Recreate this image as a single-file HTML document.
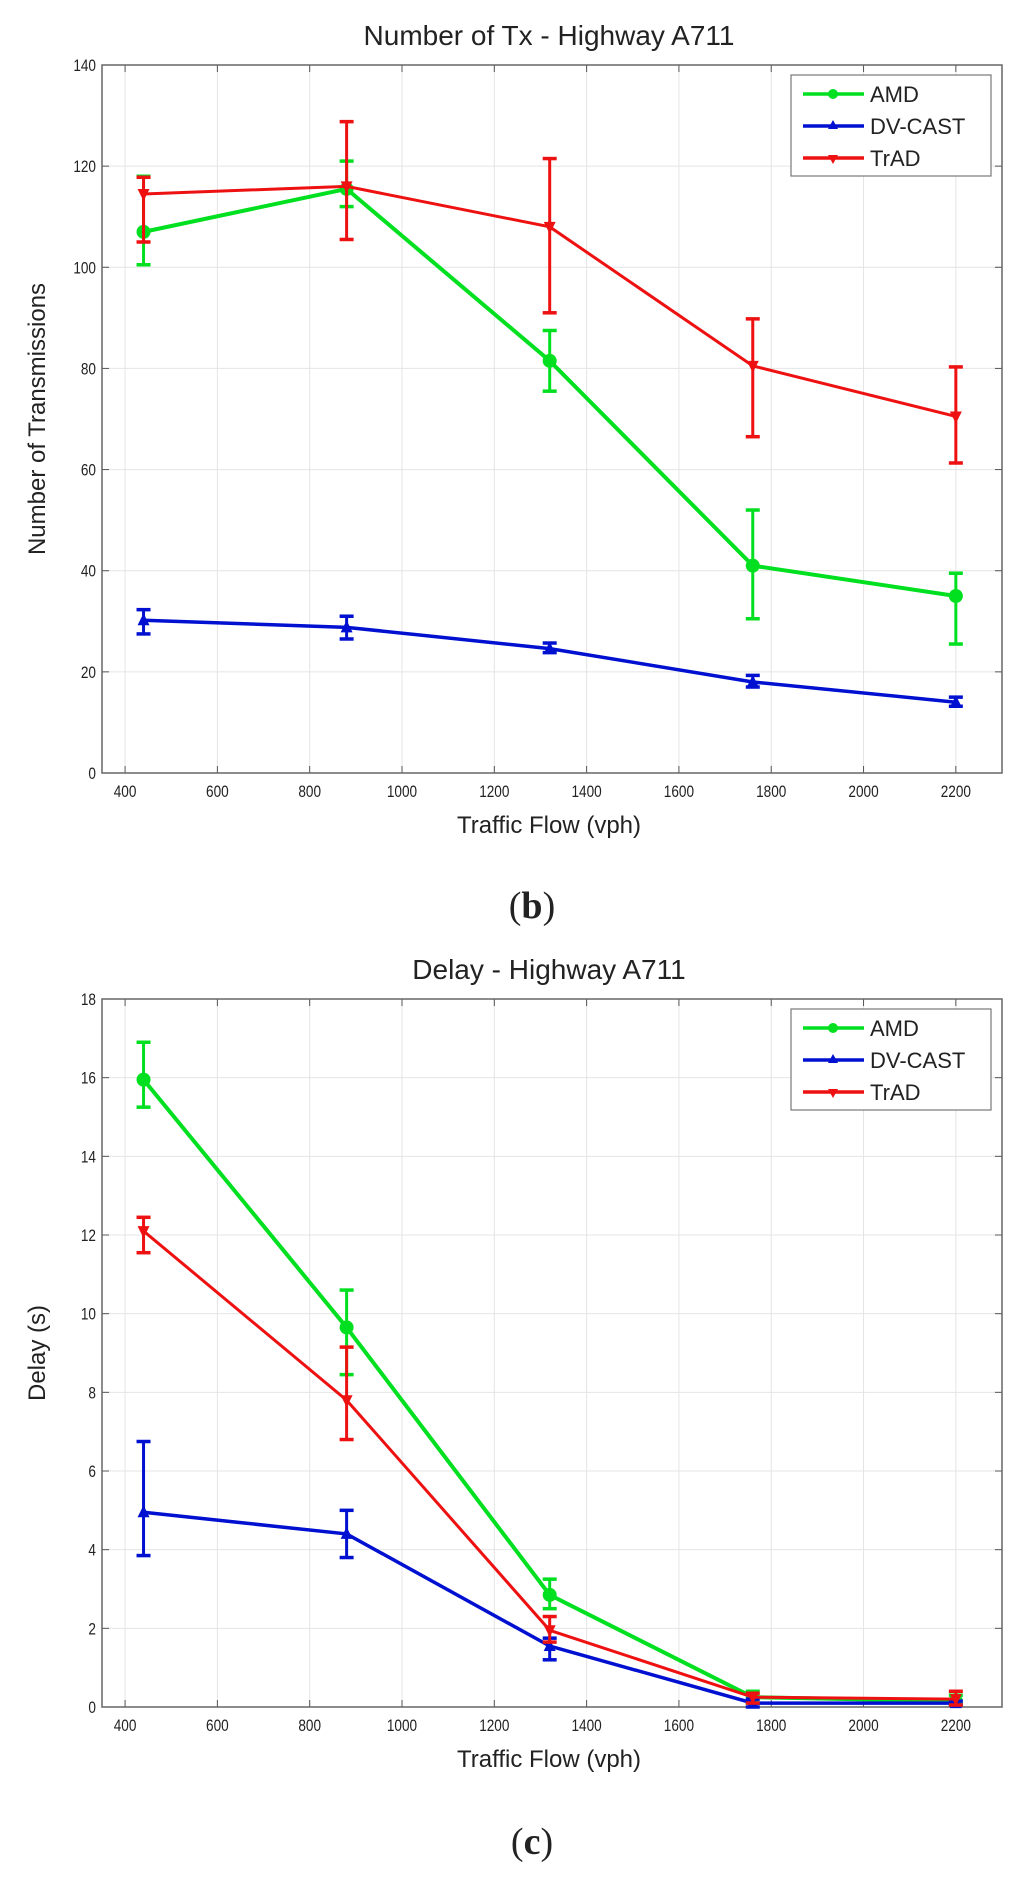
<!DOCTYPE html>
<html><head><meta charset="utf-8"><style>
html,body{margin:0;padding:0;background:#fff;}
svg{display:block;}
text{font-family:"Liberation Sans",Arial,sans-serif;fill:#222;}
</style></head><body>
<svg id="fig" width="1024" height="1887" viewBox="0 0 1024 1887"></svg>
<script>
const xCats=[440,880,1320,1760,2200];
const xTicks=[400,600,800,1000,1200,1400,1600,1800,2000,2200];
// Chart b
const txAMD=[107,115.5,81.5,41,35];
const txAMDlo=[100.5,112,75.5,30.5,25.5];
const txAMDhi=[118,121,87.5,52,39.5];
const txDV=[30.2,28.8,24.6,18,14];
const txDVlo=[27.5,26.5,23.8,17,13.2];
const txDVhi=[32.3,31,25.7,19.3,15];
const txTR=[114.5,116,108,80.5,70.5];
const txTRlo=[105,105.5,91,66.5,61.3];
const txTRhi=[117.8,128.8,121.5,89.8,80.3];
const txYTicks=[0,20,40,60,80,100,120,140];
// Chart c
const dlAMD=[15.95,9.65,2.85,0.25,0.15];
const dlAMDlo=[15.25,8.45,2.5,0.1,0.05];
const dlAMDhi=[16.9,10.6,3.25,0.4,0.3];
const dlDV=[4.95,4.4,1.55,0.1,0.1];
const dlDVlo=[3.85,3.8,1.2,0,0.05];
const dlDVhi=[6.75,5.0,1.75,0.2,0.15];
const dlTR=[12.1,7.8,1.95,0.25,0.2];
const dlTRlo=[11.55,6.8,1.65,0.1,0.05];
const dlTRhi=[12.45,9.15,2.3,0.35,0.4];
const dlYTicks=[0,2,4,6,8,10,12,14,16,18];

const NS="http://www.w3.org/2000/svg";
const svg=document.getElementById('fig');
function mk(tag,attrs,parent,txt){const e=document.createElementNS(NS,tag);for(const k in attrs)e.setAttribute(k,attrs[k]);if(txt!==undefined)e.textContent=txt;(parent||svg).appendChild(e);return e;}

function chart(cfg){
  const g=mk('g',{});
  
  
  const L=102,R=1002,T=cfg.top,B=cfg.bottom;
  const xs=v=>L+(v-350)/(2300-350)*(R-L);
  const ys=v=>B-(v-cfg.ymin)/(cfg.ymax-cfg.ymin)*(B-T);
  // grid
  xTicks.forEach(t=>{const l=mk('line',{x1:xs(t),x2:xs(t),y1:T,y2:B,stroke:'#e4e4e4','stroke-width':1},g);
    
    mk('line',{x1:xs(t),x2:xs(t),y1:B,y2:B-7,stroke:'#555'},g);mk('line',{x1:xs(t),x2:xs(t),y1:T,y2:T+7,stroke:'#555'},g);
    const tx=mk('text',{x:xs(t),y:B+24,'text-anchor':'middle','font-size':17,transform:`translate(${xs(t)},0) scale(0.8,1) translate(${-xs(t)},0)`},g,String(t));
    });
  cfg.yticks.forEach(t=>{const l=mk('line',{x1:L,x2:R,y1:ys(t),y2:ys(t),stroke:'#e4e4e4','stroke-width':1},g);
    
    mk('line',{x1:L,x2:L+7,y1:ys(t),y2:ys(t),stroke:'#555'},g);mk('line',{x1:R,x2:R-7,y1:ys(t),y2:ys(t),stroke:'#555'},g);
    const tx=mk('text',{x:L-6,y:ys(t)+6,'text-anchor':'end','font-size':17,transform:`translate(${L-6},0) scale(0.8,1) translate(${-(L-6)},0)`},g,String(t));
    });
  const box=mk('rect',{x:L,y:T,width:R-L,height:B-T,fill:'none',stroke:'#666','stroke-width':1.5},g);
  
  // series
  cfg.series.forEach(s=>{
    const sg=mk('g',{},g);
    
    
    const pts=s.v.map((v,i)=>xs(xCats[i])+','+ys(v)).join(' ');
    mk('polyline',{points:pts,fill:'none',stroke:s.c,'stroke-width':s.w},sg);
    s.v.forEach((v,i)=>{
      const x=xs(xCats[i]);
      const eb=mk('g',{},sg);
      
      
      mk('line',{x1:x,x2:x,y1:ys(s.lo[i]),y2:ys(s.hi[i]),stroke:s.c,'stroke-width':3},eb);
      mk('line',{x1:x-7,x2:x+7,y1:ys(s.lo[i]),y2:ys(s.lo[i]),stroke:s.c,'stroke-width':3.5},eb);
      mk('line',{x1:x-7,x2:x+7,y1:ys(s.hi[i]),y2:ys(s.hi[i]),stroke:s.c,'stroke-width':3.5},eb);
      const y=ys(v);let m;
      if(s.m==='o')m=mk('circle',{cx:x,cy:y,r:7,fill:s.c},sg);
      else if(s.m==='^')m=mk('polygon',{points:`${x},${y-7} ${x-6},${y+5} ${x+6},${y+5}`,fill:s.c},sg);
      else m=mk('polygon',{points:`${x},${y+7} ${x-6},${y-5} ${x+6},${y-5}`,fill:s.c},sg);
      
      
    });
  });
  // legend
  const lg=mk('g',{},g);
  
  
  mk('rect',{x:791,y:T+10,width:200,height:101,fill:'#fff',stroke:'#777','stroke-width':1.2},lg);
  cfg.series.forEach((s,i)=>{
    const yy=T+29+i*32;
    const e=mk('g',{},lg);
    
    
    mk('line',{x1:803,x2:864,y1:yy,y2:yy,stroke:s.c,'stroke-width':3.5},e);
    if(s.m==='o')mk('circle',{cx:833,cy:yy,r:5,fill:s.c},e);
    else if(s.m==='^')mk('polygon',{points:`833,${yy-6} 828,${yy+3} 838,${yy+3}`,fill:s.c},e);
    else mk('polygon',{points:`833,${yy+6} 828,${yy-3} 838,${yy-3}`,fill:s.c},e);
    mk('text',{x:870,y:yy+8,'font-size':22},e,s.label);
  });
  const ti=mk('text',{x:549,y:T-20,'text-anchor':'middle','font-size':28},g,cfg.title);
  
  const xl=mk('text',{x:549,y:B+60,'text-anchor':'middle','font-size':24},g,'Traffic Flow (vph)');
  
  const cy=(T+B)/2;
  const yl=mk('text',{x:45,y:cy,'text-anchor':'middle','font-size':24,transform:`rotate(-90 45 ${cy})`},g,cfg.ylabel);
  
  const cap=mk('text',{x:532,y:cfg.capY,'text-anchor':'middle','font-size':38,style:'font-family:"Liberation Serif",serif'},g);
  
  mk('tspan',{},cap,'(');mk('tspan',{'font-weight':'bold'},cap,cfg.cap);mk('tspan',{},cap,')');
}
chart({name:'tx-chart',top:65,bottom:773,ymin:0,ymax:140,yticks:txYTicks,title:'Number of Tx - Highway A711',ylabel:'Number of Transmissions',cap:'b',capY:918,
  series:[{key:'amd',label:'AMD',c:'#00e020',m:'o',w:4,v:txAMD,lo:txAMDlo,hi:txAMDhi},
          {key:'dvcast',label:'DV-CAST',c:'#0010d0',m:'^',w:3.5,v:txDV,lo:txDVlo,hi:txDVhi},
          {key:'trad',label:'TrAD',c:'#ee1111',m:'v',w:3,v:txTR,lo:txTRlo,hi:txTRhi}]});
chart({name:'delay-chart',top:999,bottom:1707,ymin:0,ymax:18,yticks:dlYTicks,title:'Delay - Highway A711',ylabel:'Delay (s)',cap:'c',capY:1854,
  series:[{key:'amd',label:'AMD',c:'#00e020',m:'o',w:4,v:dlAMD,lo:dlAMDlo,hi:dlAMDhi},
          {key:'dvcast',label:'DV-CAST',c:'#0010d0',m:'^',w:3.5,v:dlDV,lo:dlDVlo,hi:dlDVhi},
          {key:'trad',label:'TrAD',c:'#ee1111',m:'v',w:3,v:dlTR,lo:dlTRlo,hi:dlTRhi}]});
</script>
</body></html>
